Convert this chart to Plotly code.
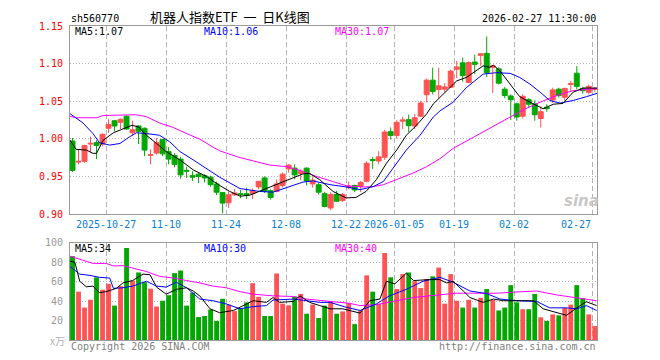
import plotly.graph_objects as go

# ---------------- data ----------------
dates = [
    "2025-10-17",
    "2025-10-20", "2025-10-21", "2025-10-22", "2025-10-23", "2025-10-24",
    "2025-10-27", "2025-10-28", "2025-10-29", "2025-10-30", "2025-10-31",
    "2025-11-03", "2025-11-04", "2025-11-05", "2025-11-06", "2025-11-07",
    "2025-11-10", "2025-11-11", "2025-11-12", "2025-11-13", "2025-11-14",
    "2025-11-17", "2025-11-18", "2025-11-19", "2025-11-20", "2025-11-21",
    "2025-11-24", "2025-11-25", "2025-11-26", "2025-11-27", "2025-11-28",
    "2025-12-01", "2025-12-02", "2025-12-03", "2025-12-04", "2025-12-05",
    "2025-12-08", "2025-12-09", "2025-12-10", "2025-12-11", "2025-12-12",
    "2025-12-15", "2025-12-16", "2025-12-17", "2025-12-18", "2025-12-19",
    "2025-12-22", "2025-12-23", "2025-12-24", "2025-12-25", "2025-12-26",
    "2025-12-29", "2025-12-30", "2025-12-31",
    "2026-01-05", "2026-01-06", "2026-01-07", "2026-01-08", "2026-01-09",
    "2026-01-12", "2026-01-13", "2026-01-14", "2026-01-15", "2026-01-16",
    "2026-01-19", "2026-01-20", "2026-01-21", "2026-01-22", "2026-01-23",
    "2026-01-26", "2026-01-27", "2026-01-28", "2026-01-29", "2026-01-30",
    "2026-02-02", "2026-02-03", "2026-02-04", "2026-02-05", "2026-02-06",
    "2026-02-09", "2026-02-10", "2026-02-11", "2026-02-12", "2026-02-13",
    "2026-02-24", "2026-02-25", "2026-02-26", "2026-02-27",
]

opens = [0.997, 0.969, 0.970, 0.993, 0.995, 0.993, 1.014, 1.024, 1.022, 1.030,
         1.008, 1.017, 1.014, 0.978, 0.981, 0.999, 0.983, 0.978, 0.973, 0.958,
         0.951, 0.953, 0.951, 0.949, 0.940, 0.9285, 0.915, 0.9255, 0.927, 0.927,
         0.927, 0.936, 0.948, 0.931, 0.930, 0.938, 0.960, 0.961, 0.954, 0.961,
         0.940, 0.939, 0.927, 0.908, 0.926, 0.918, 0.935, 0.938, 0.937, 0.9435,
         0.9725, 0.9705, 0.9755, 1.0095, 1.0045, 1.0235, 1.0255, 1.017, 1.030, 1.0587,
         1.078, 1.0655, 1.066, 1.0685, 1.0925, 1.101, 1.075, 1.102, 1.111, 1.1136,
         1.095, 1.093, 1.066, 1.057, 1.0465, 1.030, 1.052, 1.0465, 1.027, 1.042,
         1.0517, 1.066, 1.0553, 1.0723, 1.0872, 1.067, 1.0618, 1.0655]
highs = [1.001, 0.986, 0.992, 1.003, 0.998, 1.007, 1.026, 1.025, 1.027, 1.031,
         1.024, 1.018, 1.015, 0.986, 1.001, 1.000, 0.989, 0.981, 0.976, 0.963,
         0.957, 0.955, 0.953, 0.951, 0.943, 0.929, 0.930, 0.9335, 0.932, 0.935,
         0.934, 0.944, 0.950, 0.933, 0.946, 0.955, 0.966, 0.966, 0.959, 0.962,
         0.950, 0.942, 0.929, 0.929, 0.931, 0.928, 0.943, 0.939, 0.944, 0.970,
         0.976, 0.9835, 1.012, 1.015, 1.0245, 1.0295, 1.032, 1.033, 1.0505, 1.080,
         1.0946, 1.0946, 1.074, 1.092, 1.1036, 1.108, 1.103, 1.112, 1.1135, 1.136,
         1.098, 1.095, 1.069, 1.059, 1.048, 1.059, 1.054, 1.051, 1.043, 1.046,
         1.068, 1.068, 1.068, 1.077, 1.0966, 1.069, 1.072, 1.069]
lows = [0.956, 0.966, 0.968, 0.982, 0.973, 0.990, 1.008, 1.010, 1.013, 1.012,
        1.004, 0.993, 0.977, 0.966, 0.979, 0.977, 0.966, 0.962, 0.947, 0.948,
        0.944, 0.941, 0.942, 0.936, 0.925, 0.901, 0.908, 0.924, 0.921, 0.920,
        0.920, 0.933, 0.928, 0.919, 0.929, 0.935, 0.955, 0.946, 0.945, 0.938,
        0.935, 0.926, 0.909, 0.905, 0.916, 0.916, 0.933, 0.929, 0.929, 0.942,
        0.960, 0.966, 0.972, 0.999, 1.000, 1.013, 1.009, 1.013, 1.029, 1.048,
        1.059, 1.054, 1.062, 1.068, 1.0806, 1.076, 1.074, 1.086, 1.097, 1.082,
        1.061, 1.072, 1.054, 1.025, 1.024, 1.027, 1.041, 1.024, 1.015, 1.036,
        1.048, 1.055, 1.050, 1.062, 1.066, 1.060, 1.059, 1.062]
closes = [0.958, 0.970, 0.991, 0.994, 0.991, 1.006, 1.019, 1.017, 1.026, 1.013,
          1.012, 1.010, 0.985, 0.979, 0.995, 0.980, 0.973, 0.966, 0.952, 0.957,
          0.949, 0.950, 0.948, 0.939, 0.929, 0.9145, 0.9255, 0.928, 0.926, 0.925,
          0.931, 0.9435, 0.930, 0.922, 0.940, 0.953, 0.965, 0.952, 0.957, 0.944,
          0.945, 0.929, 0.910, 0.926, 0.917, 0.926, 0.937, 0.932, 0.942, 0.9675,
          0.971, 0.976, 1.009, 1.0045, 1.022, 1.025, 1.0175, 1.028, 1.0475, 1.078,
          1.063, 1.0705, 1.069, 1.090, 1.0955, 1.084, 1.1013, 1.099, 1.113, 1.088,
          1.097, 1.074, 1.0575, 1.052, 1.029, 1.0565, 1.046, 1.032, 1.036, 1.040,
          1.065, 1.0574, 1.067, 1.0733, 1.0697, 1.064, 1.0697, 1.067]
volumes = [86, 49.6, 33.3, 41.3, 64.3, 51.6, 57.6, 35.3, 55.3, 94.3,
           61, 69.3, 59.3, 52.6, 34.3, 40.3, 46, 68.6, 71.3, 35.3,
           48.6, 23.6, 24.6, 31.3, 19.6, 42.3, 36.3, 29.6, 32.6, 38.6,
           58.3, 44.3, 24.6, 24.6, 68.3, 37.3, 35.6, 44.6, 47.3, 27,
           36.3, 22.6, 35.3, 39.3, 27, 29.3, 38, 16.3, 30.3, 66.3,
           49.6, 37, 89.3, 64.3, 52.3, 67.6, 69.3, 60.3, 53.3, 62.6,
           65.3, 74.3, 37.3, 67.6, 40.3, 33.3, 41.3, 33.3, 43.3, 52.3,
           41, 30.3, 33.3, 56.3, 38.6, 31.6, 31.6, 47.3, 23.3, 19.6,
           26.3, 25.3, 33, 36.3, 56.3, 43, 26.3, 14.3]

# moving averages (x = trading-day index)
p_ma5_x = [-0.4, 0.6, 2.3, 3.4, 4, 5.1, 6.8, 8.5, 9.9, 11, 12.3, 14, 15.6, 17.9, 20.1, 22.3, 24.5,
           26.2, 27.9, 29.5, 31.7, 33.95, 36.2, 38.4, 39.5, 41.2, 43.4, 45.6, 47.2, 48.9, 50.6,
           52.3, 54, 55.6, 57.3, 59, 60.1, 61.2, 62.9, 64, 65.6, 67.3, 68.4, 69.5, 70.1, 71.2,
           72.9, 74.5, 76.2, 78.4, 80.1, 81.7, 83.4, 85.1, 87.4]
p_ma5_v = [0.998, 0.986, 0.985, 0.9807, 0.9807, 0.998, 1.008, 1.0136, 1.018, 1.0158, 1.0047,
           0.9938, 0.983, 0.972, 0.9587, 0.950, 0.938, 0.930, 0.9237, 0.925, 0.932, 0.939,
           0.9455, 0.9534, 0.954, 0.9455, 0.930, 0.9214, 0.922, 0.930, 0.9455, 0.9675, 0.985,
           1.0047, 1.018, 1.0333, 1.0464, 1.0553, 1.068, 1.077, 1.0816, 1.0903, 1.097, 1.095,
           1.098, 1.0903, 1.0728, 1.056, 1.0487, 1.040, 1.046, 1.047, 1.062, 1.0675, 1.0675]
p_ma10_x = [-0.4, 1.75, 3.4, 4.5, 6.2, 7.9, 9.5, 10.65, 12.3, 14.5, 16.2, 17.9, 20.1, 22.3, 24.5,
            27.9, 31.2, 33.4, 35.6, 38.4, 40.1, 42.9, 45.6, 47.9, 50.1, 51.8, 53.4, 55.6, 57.9,
            60.1, 61.2, 63.4, 65.6, 67.3, 68.4, 70.65, 72.9, 74.5, 76.2, 77.9, 79.5, 81.2, 83.4,
            85.6, 87.4]
p_ma10_v = [1.0333, 1.021, 1.007, 0.9947, 0.9916, 0.9938, 1.0026, 1.008, 1.007, 1.0047, 0.996,
            0.983, 0.972, 0.961, 0.949, 0.9338, 0.930, 0.929, 0.9346, 0.9425, 0.944, 0.939,
            0.936, 0.9324, 0.9364, 0.9434, 0.961, 0.985, 1.0048, 1.029, 1.037, 1.0487, 1.068,
            1.0793, 1.086, 1.088, 1.087, 1.0816, 1.0728, 1.062, 1.051, 1.0474, 1.051, 1.056, 1.0605]
p_ma30_x = [-0.4, 0.6, 4, 5.1, 10.6, 12.3, 14.5, 16.8, 19, 21.2, 23.4, 24.5, 27.9, 30.1, 32.9,
            35.6, 37.9, 40.6, 43.4, 45.6, 48.4, 50.1, 51.8, 54, 56.7, 59, 61.2, 63.4, 66.75,
            69.5, 72.3, 75.1, 77.9, 80.6, 83.4, 85.6, 87.4]
p_ma30_v = [1.030, 1.028, 1.028, 1.031, 1.032, 1.0295, 1.021, 1.015, 1.007, 0.9995, 0.989, 0.984,
            0.975, 0.9705, 0.965, 0.963, 0.958, 0.950, 0.9434, 0.9376, 0.936, 0.9365, 0.939,
            0.9455, 0.9543, 0.963, 0.9735, 0.9872, 1.0017, 1.0136, 1.0267, 1.0386, 1.0487,
            1.0574, 1.064, 1.0662, 1.067]

v_ma5_x = [-0.4, 0.4, 1.2, 2.3, 3.4, 4.5, 5.6, 7.3, 8.4, 10, 11.75, 12.9, 14, 15.6, 17.3, 19,
           20.1, 21.2, 22.9, 24.5, 26.8, 29, 30.1, 32.3, 33.4, 34.5, 36.8, 37.9, 39.5, 41.2,
           42.9, 45, 47.9, 49.5, 51.2, 52.3, 53.7, 55.6, 56.8, 59.5, 61.2, 62.3, 63.4, 65.1,
           66.2, 68.4, 70.1, 71.8, 74, 76.8, 78.4, 80.6, 82.3, 84, 85.6, 87.3]
v_ma5_v = [81, 79.6, 60.3, 54.6, 55.3, 48.6, 49.6, 53, 58.6, 61, 67.6, 67, 54.3, 47, 52, 53.6,
           50.3, 45.3, 32, 28, 30.3, 37, 40.3, 38.6, 43.6, 38.6, 39.6, 45.3, 38.6, 35.3, 32, 32,
           27.6, 40.3, 42, 60.3, 57.6, 68.6, 61, 62, 62, 58.6, 60.3, 50.3, 43.6, 38.6, 42, 40.3,
           40.3, 40.3, 32, 28.6, 25.3, 33, 39.3, 35.3]
v_ma10_x = [-0.4, 1.2, 2.9, 4.5, 6.2, 6.8, 8.4, 10, 12.3, 14, 15.6, 17.3, 19, 21.2, 23.4, 25.6,
            27.9, 30.1, 32.3, 33.4, 36.8, 39, 41.2, 42.9, 45.6, 47.9, 50.6, 52.8, 55.6, 58.4,
            61.2, 63.4, 66.2, 69, 71.2, 74, 77.3, 79.5, 82.3, 84, 85.6, 87.3]
v_ma10_v = [75.3, 67.6, 66.3, 64.3, 63.6, 53, 53.6, 55.3, 60.3, 55.3, 54.3, 59.3, 53.6, 42,
            40.3, 37, 32, 34.3, 35.3, 41, 42, 40.3, 38.6, 38.6, 33.6, 30.3, 37, 45.3, 52, 60.3,
            64.3, 59.3, 50.3, 47.6, 42, 40.3, 39.6, 33, 33, 32, 35.3, 30.3]
v_ma30_x = [-0.4, 1.2, 3.4, 5.6, 6.8, 8.4, 10, 12.3, 14.5, 16.8, 19, 21.2, 23.4, 25.6, 27.9,
            30.1, 33.4, 36.8, 39, 41.2, 42.9, 46.2, 47.9, 50.6, 53.9, 56.8, 59.5, 61.7, 63.9,
            67.8, 70.6, 74, 77.3, 80.6, 84, 87.3]
v_ma30_v = [86, 83, 78.6, 78.6, 76, 76.3, 73.6, 70.3, 65.3, 63.6, 61, 58.6, 55.3, 53.6, 49.6,
            47, 45.3, 44.6, 42, 40.3, 39.6, 37.6, 35.3, 36.3, 40.3, 43.6, 45.3, 47, 48, 48, 48,
            49.3, 50.3, 46.3, 43.6, 40.3]

price_ma_labels = ["1.07", "1.06", "1.07"]
vol_ma_labels = ["34", "30", "40"]

label_dates = ["2025-10-27", "2025-11-10", "2025-11-24", "2025-12-08", "2025-12-22",
               "2026-01-05", "2026-01-19", "2026-02-02", "2026-02-27"]
label_text = ["2025-10-27", "11-10", "11-24", "12-08", "12-22",
              "2026-01-05", "01-19", "02-02", "02-27"]
price_ticks = [0.90, 0.95, 1.00, 1.05, 1.10, 1.15]
vol_ticks = [20, 40, 60, 80, 100]

# ---------------- style ----------------
RED = "#ff5252"
GREEN = "#00a800"
GRID = "#b4b4b4"
BORDER = "#9a9a9a"
MONO = "DejaVu Sans Mono"
CJK = "Noto Sans CJK SC"
DATEBLUE = "#0a7fd4"

# page body has an 8px default margin: figure is sized to fit the 660x360 window
PAGE_OFF = 8
W, H = 660 - PAGE_OFF, 360 - PAGE_OFF
L, T = 70 - PAGE_OFF, 21 - PAGE_OFF
R, B = W - (597 - PAGE_OFF), H - (340 - PAGE_OFF)
PH = H - T - B
PW = W - L - R


def py(page_y):
    return (H - B - (page_y - PAGE_OFF)) / PH


def px(page_x):
    return (page_x - PAGE_OFF - L) / PW


idx = list(range(len(dates)))
grid_off = -0.42
grid_pos = [dates.index(d) + grid_off for d in label_dates]
vol_colors = [RED if c >= o else GREEN for o, c in zip(opens, closes)]

fig = go.Figure()

fig.add_trace(go.Candlestick(
    x=idx, open=opens, high=highs, low=lows, close=closes,
    increasing=dict(line=dict(color=RED, width=1), fillcolor=RED),
    decreasing=dict(line=dict(color=GREEN, width=1), fillcolor=GREEN),
    whiskerwidth=0, hoverinfo="skip", xaxis="x", yaxis="y"))

for xs, vs, col in [(p_ma30_x, p_ma30_v, "#ff00ff"), (p_ma10_x, p_ma10_v, "#0000ff"),
                    (p_ma5_x, p_ma5_v, "#000000")]:
    fig.add_trace(go.Scatter(x=xs, y=vs, mode="lines", line=dict(color=col, width=1),
                             hoverinfo="skip", xaxis="x", yaxis="y"))

fig.add_trace(go.Bar(x=idx, y=volumes, marker=dict(color=vol_colors, line=dict(width=0)),
                     width=0.8, hoverinfo="skip", xaxis="x2", yaxis="y2"))

for xs, vs, col in [(v_ma30_x, v_ma30_v, "#ff00ff"), (v_ma10_x, v_ma10_v, "#0000ff"),
                    (v_ma5_x, v_ma5_v, "#000000")]:
    fig.add_trace(go.Scatter(x=xs, y=vs, mode="lines", line=dict(color=col, width=1),
                             hoverinfo="skip", xaxis="x2", yaxis="y2"))

xcommon = dict(range=[-0.42, 87.37], tickvals=grid_pos, showticklabels=False, ticks="",
               showgrid=True, gridcolor=GRID, griddash="5px,3px", gridwidth=1,
               showline=True, mirror=True, linecolor=BORDER, linewidth=1,
               zeroline=False, fixedrange=True)

fig.update_layout(
    width=W, height=H, margin=dict(l=L, r=R, t=T, b=B),
    paper_bgcolor="white", plot_bgcolor="white", showlegend=False,
    boxgap=0.18, boxgroupgap=0,
    xaxis=dict(domain=[0, 1], anchor="y", rangeslider=dict(visible=False), **xcommon),
    xaxis2=dict(domain=[0, 1], anchor="y2", matches="x", **xcommon),
    yaxis=dict(domain=[py(212), 1], range=[0.90, 1.15], tickvals=price_ticks,
               tickformat=".2f", tickfont=dict(family=MONO, size=10, color="#ff0000"),
               ticks="", ticklabelstandoff=4,
               showgrid=True, gridcolor=GRID, griddash="1px,2px", gridwidth=1,
               showline=True, mirror=True, linecolor=BORDER, linewidth=1,
               zeroline=False, fixedrange=True),
    yaxis2=dict(domain=[0, py(241)], range=[0, 100], tickvals=vol_ticks,
                tickfont=dict(family=MONO, size=10, color="#999999"),
                ticks="", ticklabelstandoff=4,
                showgrid=True, gridcolor=GRID, griddash="1px,2px", gridwidth=1,
                showline=True, mirror=True, linecolor=BORDER, linewidth=1,
                zeroline=False, fixedrange=True),
)

ann = []


def text(x, y, s, color="#000000", size=10, family=MONO, xanchor="left", xref="paper",
         box_h=None):
    a = dict(x=x, y=y, xref=xref, yref="paper", text=s, showarrow=False,
             xanchor=xanchor, yanchor="middle", borderpad=0,
             font=dict(family=family, size=size, color=color))
    if box_h:
        a["height"] = box_h
    ann.append(a)


NB = "\u00a0"
# header
text(px(70), py(13), "sh560770", box_h=12)
text(px(230), py(11.5), "机器人指数ETF" + NB * 2 + "一" + NB * 2 + "日K线图",
     size=13, family=CJK, xanchor="center", box_h=15)
text(px(597), py(13), "2026-02-27 11:30:00", xanchor="right", box_h=12)
# price MA labels
text(px(74), py(26.5), "MA5:" + price_ma_labels[0], box_h=12)
text(px(203), py(26.5), "MA10:" + price_ma_labels[1], color="#0000ff", box_h=12)
text(px(334), py(26.5), "MA30:" + price_ma_labels[2], color="#ff00ff", box_h=12)
# volume MA labels
text(px(74), py(246.5), "MA5:" + vol_ma_labels[0], box_h=12)
text(px(203), py(246.5), "MA10:" + vol_ma_labels[1], color="#0000ff", box_h=12)
text(px(334), py(246.5), "MA30:" + vol_ma_labels[2], color="#ff00ff", box_h=12)
# date labels
for gp, lab in zip(grid_pos, label_text):
    last = lab == label_text[-1]
    text(gp, py(222), lab, color=DATEBLUE, xanchor="right" if last else "center", xref="x",
         box_h=12)
# footer
text(px(66), py(341), "x万", color="#b0b0b0", size=10, family=CJK, xanchor="right")
text(px(70), py(346), "Copyright 2026 SINA.COM", color="#808080", box_h=12)
text(px(597), py(346), "http://finance.sina.com.cn", color="#808080", xanchor="right",
     box_h=12)
# watermark
text(px(581), py(199), "<b><i>sina</i></b>", color="#c8c8c8", size=15,
     family="DejaVu Sans", xanchor="center")

fig.update_layout(annotations=ann)

fig.write_html("out.html")
